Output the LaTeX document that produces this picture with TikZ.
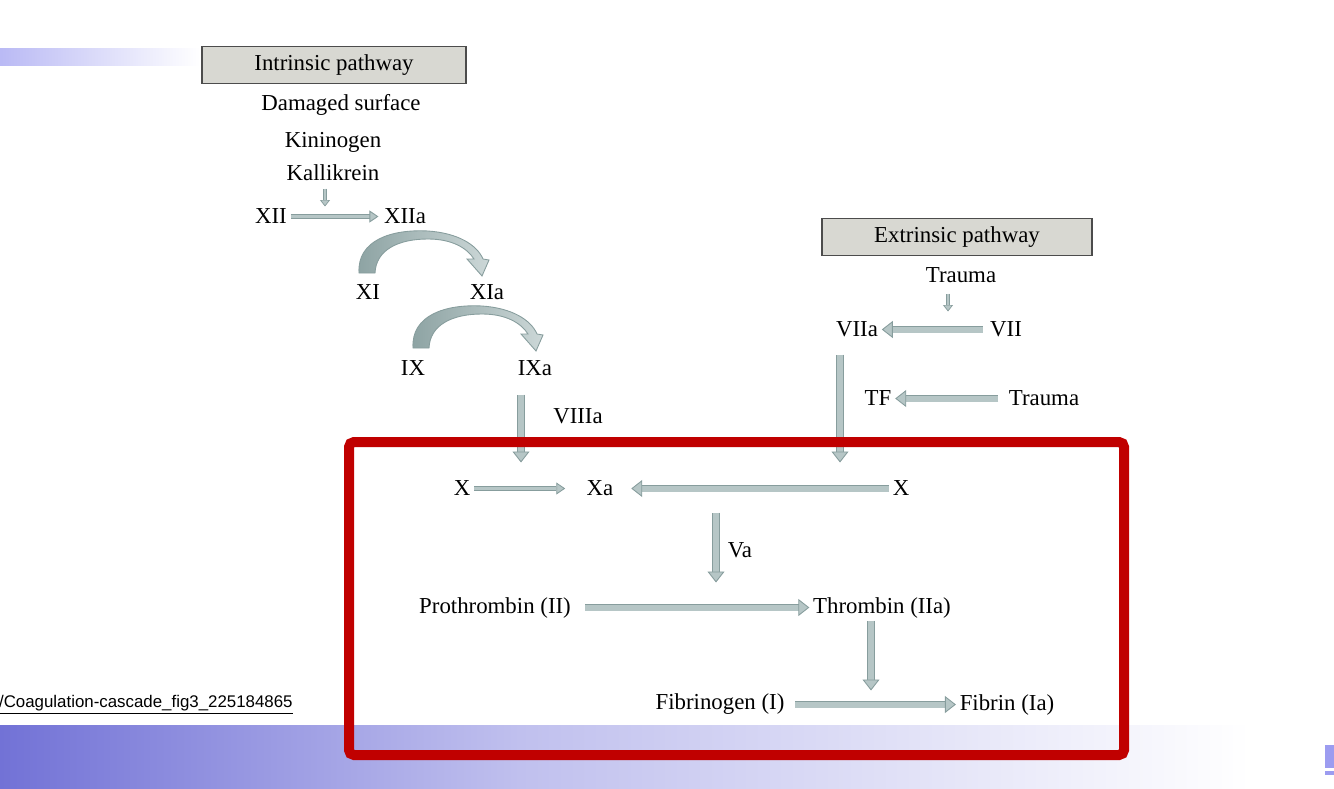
\documentclass[tikz,border=0pt]{standalone}
\usepackage{fontspec}
\setmainfont{Liberation Serif}
\newfontfamily\urlfont{Liberation Sans}
\usetikzlibrary{arrows.meta}
\definecolor{arrowfill}{HTML}{B6C6C6}
\definecolor{arrowedge}{HTML}{879D9D}
\definecolor{arrowdark}{HTML}{8DA3A3}
\definecolor{boxgray}{HTML}{D8D8D2}
\definecolor{framered}{HTML}{C00000}
\definecolor{bandblue}{HTML}{7272D6}
\definecolor{bandmid}{HTML}{C0C0EE}
\definecolor{markblue}{HTML}{9C9CF0}

\begin{document}
\begin{tikzpicture}[
        x=0.02cm, y=-0.02cm,
        every node/.style={font=\fontsize{13}{15}\selectfont, inner sep=2pt, yshift=-0.05cm},
        pathbox/.style={draw=black!70, fill=boxgray, line width=0.8pt,
            minimum width=5.28cm, minimum height=0.74cm},
        fatarrow/.style={draw=arrowedge, line width=0.5pt, double=arrowfill, double distance=0.12cm,
            -{Triangle[length=0.22cm, width=0.34cm, fill=arrowfill, line width=0.5pt]}},
        thinarrow/.style={draw=arrowedge, line width=0.5pt, double=arrowfill, double distance=0.07cm,
            -{Triangle[length=0.18cm, width=0.24cm, fill=arrowfill, line width=0.5pt]}},
        tinyarrow/.style={draw=arrowedge, line width=0.4pt, double=arrowfill, double distance=0.05cm,
            -{Triangle[length=0.13cm, width=0.2cm, fill=arrowfill, line width=0.4pt]}},
        bentarrow/.style={draw=arrowedge, line width=0.5pt, left color=arrowdark, right color=arrowfill!70}
    ]
      \useasboundingbox (0,0) rectangle (1334,788);

      % background of the slide
      \shade[left color=markblue!70, right color=white] (0,48) rectangle (200,65);
      \shade[left color=bandblue, right color=bandmid] (0,725) rectangle (520,788);
      \shade[left color=bandmid, right color=white] (520,725) rectangle (1250,788);
      \fill[markblue] (1325,745) rectangle (1334,768);
      \fill[markblue] (1325,771) rectangle (1334,775);
      \node[anchor=east, inner sep=0pt, font=\urlfont\fontsize{9.6}{11}\selectfont]
        (url) at (293,702) {\underline{/Coagulation-cascade\_fig3\_225184865}};

      % intrinsic pathway
      \node[pathbox, yshift=0.05cm] (intr) at (334,65) {Intrinsic pathway};
      \node (dmg) at (341,102) {Damaged surface};
      \node (kin) at (333,140) {Kininogen};
      \node (kal) at (333,170) {Kallikrein};
      \node (xii) at (271,214) {XII};
      \node (xiia) at (405,214) {XIIa};
      \node (xi) at (368,290) {XI};
      \node (xia) at (487,290) {XIa};
      \node (ix) at (413,366) {IX};
      \node (ixa) at (535,366) {IXa};
      \node (viiia) at (578,414) {VIIIa};

      % extrinsic pathway
      \node[pathbox, minimum width=5.4cm, yshift=0.05cm] (extr) at (957,237) {Extrinsic pathway};
      \node (trauma) at (961,273) {Trauma};
      \node (viia) at (857,327) {VIIa};
      \node (vii) at (1006,327) {VII};
      \node (tf) at (878,396) {TF};
      \node (trauma2) at (1044,396) {Trauma};

      % common pathway
      \node (xl) at (462,486) {X};
      \node (xa) at (600,486) {Xa};
      \node (xr) at (901,486) {X};
      \node (va) at (740,548) {Va};
      \node (prot) at (495,605) {Prothrombin (II)};
      \node (thr) at (882,605) {Thrombin (IIa)};
      \node (fbg) at (720,702) {Fibrinogen (I)};
      \node (fbn) at (1007,702) {Fibrin (Ia)};

      \coordinate (k1) at (325,186);  \coordinate (k2) at (325,204);
      \coordinate (t1) at (948,291);  \coordinate (t2) at (948,309);
      \coordinate (i1) at (521,392);  \coordinate (i2) at (521,460);
      \coordinate (e1) at (840,352);  \coordinate (e2) at (840,460);
      \coordinate (v1) at (716,510);  \coordinate (v2) at (716,580);
      \coordinate (h1) at (871,618);  \coordinate (h2) at (871,688);

      % bent arrows XI -> XIa and IX -> IXa
      \foreach \dx/\dy in {0/0, 54/75} {
        \begin{scope}[shift={(\dx,\dy)}]
          \shade[bentarrow] (359,273) .. controls (357,240) and (392,229) .. (428,231)
            .. controls (458,233) and (477,245) .. (483,259) -- (489,260) -- (482,276) -- (467,259)
            -- (474,259) .. controls (467,248) and (452,239) .. (428,239)
            .. controls (398,239) and (376,250) .. (375,273) -- cycle;
        \end{scope}
      }

      % arrows
      \draw[tinyarrow] (k1) -- (k2);
      \draw[tinyarrow] (t1) -- (t2);
      \draw[thinarrow, shorten >=1] (xii) -- (xiia);
      \draw[fatarrow] (i1) -- (i2);
      \draw[fatarrow, shorten <=2] (vii) -- (viia);
      \draw[fatarrow] (e1) -- (e2);
      \draw[fatarrow, shorten <=4] (trauma2) -- (tf);
      \draw[thinarrow, shorten >=10] (xl) -- (xa);
      \draw[fatarrow, shorten <=0, shorten >=8] (xr) -- (xa);
      \draw[fatarrow] (v1) -- (v2);
      \draw[fatarrow, shorten <=6] (prot) -- (thr);
      \draw[fatarrow] (h1) -- (h2);
      \draw[fatarrow, shorten <=4] (fbg) -- (fbn);

      % highlight frame
      \draw[framered, line width=0.2cm, rounded corners=0.1cm] (349,442) rectangle (1124,755);
    \end{tikzpicture}
\end{document}
